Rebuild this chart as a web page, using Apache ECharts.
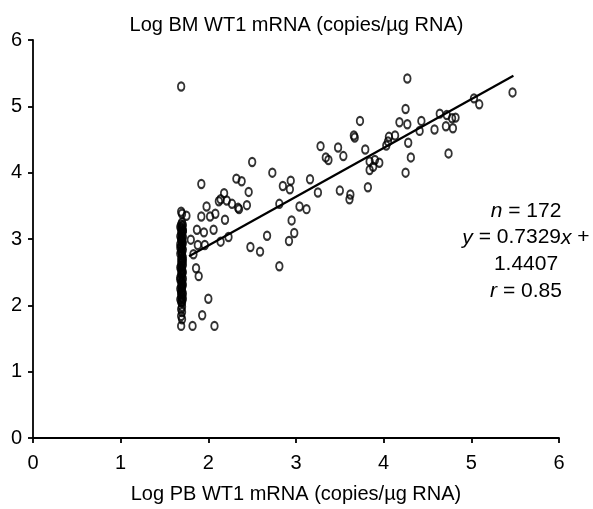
<!DOCTYPE html>
<html>
<head>
<meta charset="utf-8">
<script src="https://cdn.jsdelivr.net/npm/echarts@6/dist/echarts.min.js"></script>
<style>html,body{margin:0;padding:0;background:#fff;}#c{width:593px;height:509px;}</style>
</head>
<body>
<div id="c"></div>
<script>
// Axis ticks
const xTicks = [0, 1, 2, 3, 4, 5, 6];
const yTicks = [0, 1, 2, 3, 4, 5, 6];

// Points with PB near detection limit (vertical column)
const columnPB = [1.69,1.70,1.70,1.69,1.71,1.68,1.70,1.69,1.71,1.70,
  1.69,1.70,1.68,1.71,1.70,1.69,1.70,1.71,1.68,1.70,
  1.69,1.70,1.71,1.69,1.70,1.68,1.70,1.71,1.69,1.70,
  1.70,1.69,1.71,1.70,1.68,1.70,1.69,1.71,1.70,1.69,
  1.70,1.68,1.71,1.70,1.69,1.70,1.71,1.69,1.70,1.68,
  1.70,1.69,1.71,1.70,1.69,1.70,1.68,1.70,1.69,1.70,
  1.70,1.69,1.70,1.69,1.70,1.69,
  1.70,1.71,1.69,1.70,1.68,1.70,1.71,1.69,1.70,1.68,1.70,1.69,1.71,
  1.69];
const columnBM = [3.41,3.38,3.25,3.22,3.21,3.18,3.16,3.15,3.12,3.10,
  3.09,3.06,3.04,3.03,3.00,2.98,2.97,2.94,2.92,2.90,
  2.88,2.85,2.84,2.81,2.79,2.78,2.75,2.72,2.70,2.69,
  2.66,2.64,2.61,2.60,2.57,2.55,2.53,2.50,2.48,2.47,
  2.44,2.42,2.40,2.37,2.35,2.33,2.31,2.28,2.26,2.25,
  2.22,2.20,2.18,2.16,2.13,2.12,2.09,2.07,2.05,2.04,
  1.98,1.94,1.90,1.84,1.79,1.69,
  3.19,3.13,3.01,2.95,2.87,2.76,2.67,2.58,2.51,2.39,2.29,2.19,2.10,
  5.30];

// Remaining points
const otherPB = [
  4.27,5.47,5.03,5.09,4.25,4.64,4.72,4.78,4.82,4.43,4.18,4.27,4.71,4.79,4.58,4.41,4.28,4.31,4.74,4.25,4.06,4.13,4.05,4.03,
  3.73,3.66,3.67,3.28,3.48,3.79,3.34,3.37,3.54,3.84,3.90,3.95,3.88,3.84,3.16,3.25,3.50,3.62,3.61,3.82,3.04,3.12,
  2.73,2.94,2.85,2.93,2.81,2.95,2.98,2.92,2.67,2.81,2.59,2.48,2.50,2.46,2.44,
  2.32,2.38,2.18,2.14,2.21,2.27,2.35,2.34,1.98,1.92,2.02,2.08,2.19,1.87,1.95,2.06,2.23,2.14,1.96,1.88,1.80,1.83,1.75,
  1.92,1.86,1.89,2.00,1.93,1.82,2.07,2.12];
const otherBM = [
  5.42,5.21,5.12,5.03,4.96,4.89,4.87,4.82,4.83,4.78,4.76,4.73,4.70,4.67,4.65,4.63,4.45,4.23,4.29,4.00,4.54,4.56,4.47,4.41,
  4.78,4.56,4.53,4.40,4.38,4.35,4.23,4.19,4.25,4.17,4.19,4.15,4.09,4.04,3.90,3.70,3.73,3.67,3.60,3.78,3.49,3.45,
  4.00,3.88,3.80,3.75,3.53,3.28,3.09,2.97,3.05,2.59,2.81,2.88,4.16,3.71,3.51,
  3.91,3.87,3.69,3.60,3.58,3.53,3.45,3.47,3.49,3.34,3.34,3.38,3.29,3.14,3.10,3.14,3.03,2.96,2.91,2.91,2.99,2.77,3.35,
  3.83,2.56,2.44,2.10,1.85,1.69,1.69,3.57];

// Regression line endpoints (y = 0.7329x + 1.4407)
const fitPB = [1.78, 5.48];
const fitBM = [2.74, 5.46];

// Annotation lines
const statLines = [
  [['n', true], [' = 172', false]],
  [['y', true], [' = 0.7329', false], ['x', true], [' +', false]],
  [['1.4407', false]],
  [['r', true], [' = 0.85', false]]
];

const pts = [];
columnPB.forEach((x, i) => pts.push([x, columnBM[i]]));
otherPB.forEach((x, i) => pts.push([x, otherBM[i]]));
const fit = fitPB.map((x, i) => [x, fitBM[i]]);

const FONT = "'Liberation Sans', Arial, sans-serif";
const graphics = statLines.map((parts, k) => ({
  type: 'text', x: 526, y: 211 + k * 26.7, z: 10,
  style: {
    text: parts.map(p => (p[1] ? '{i|' : '{t|') + p[0] + '}').join(''),
    align: 'center', verticalAlign: 'middle',
    fontFamily: FONT, fontSize: 21, fill: '#000',
    rich: {
      i: {fontFamily: FONT, fontSize: 21, fontStyle: 'italic', fill: '#000'},
      t: {fontFamily: FONT, fontSize: 21, fill: '#000'}
    }
  }
}));

const chart = echarts.init(document.getElementById('c'), null, {renderer: 'canvas'});
chart.setOption({
  animation: false,
  backgroundColor: '#fff',
  title: {
    text: 'Log BM WT1 mRNA (copies/µg RNA)',
    left: 'center', top: 10,
    textStyle: {fontFamily: FONT, fontSize: 20, fontWeight: 'normal', color: '#000'}
  },
  grid: {left: 33, right: 34, top: 40, bottom: 65, containLabel: false},
  xAxis: {
    type: 'value', min: xTicks[0], max: xTicks[xTicks.length - 1], interval: 1,
    name: 'Log PB WT1 mRNA (copies/µg RNA)', nameLocation: 'middle', nameGap: 46,
    nameTextStyle: {fontFamily: FONT, fontSize: 20, color: '#000'},
    axisLine: {show: true, onZero: false, lineStyle: {color: '#000', width: 1.8}},
    axisTick: {show: true, length: 5, lineStyle: {color: '#000', width: 1.8}},
    axisLabel: {fontFamily: FONT, fontSize: 20, color: '#000', margin: 15},
    splitLine: {show: false}
  },
  yAxis: {
    type: 'value', min: yTicks[0], max: yTicks[yTicks.length - 1], interval: 1,
    axisLine: {show: true, onZero: false, lineStyle: {color: '#000', width: 1.8}},
    axisTick: {show: true, length: 5, lineStyle: {color: '#000', width: 1.8}},
    axisLabel: {fontFamily: FONT, fontSize: 20, color: '#000', margin: 11},
    splitLine: {show: false}
  },
  series: [
    {
      type: 'scatter', data: pts, symbol: 'circle', symbolSize: [6.5, 8.2],
      itemStyle: {color: 'rgba(0,0,0,0)', borderColor: '#000', borderWidth: 2},
      z: 2
    },
    {
      type: 'line', data: fit, showSymbol: false, symbol: 'none',
      lineStyle: {color: '#000', width: 2.2}, z: 3
    }
  ],
  graphic: graphics
});
</script>
</body>
</html>
